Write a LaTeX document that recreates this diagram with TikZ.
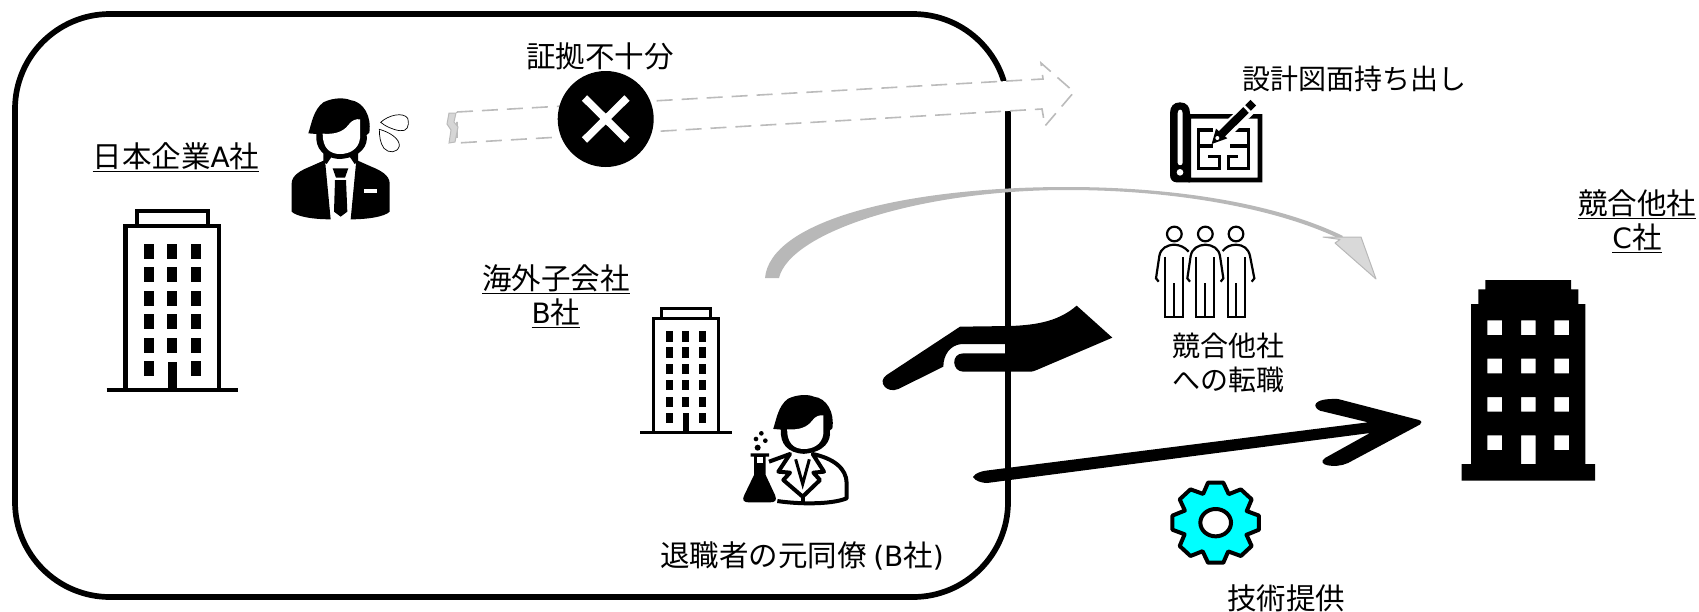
\documentclass[tikz,border=0pt]{standalone}
\usepackage{fontspec}
\setmainfont{Noto Sans CJK JP}
\newfontfamily\latf{DejaVu Sans}
\newcommand{\lat}[1]{{\latf\fontsize{28}{34}\selectfont #1}}
\definecolor{ghost}{HTML}{BBBBBB}
\definecolor{arcgray}{HTML}{B8B8B8}
\definecolor{headgray}{HTML}{D9D9D9}
\definecolor{gearcyan}{HTML}{00FFFF}
\tikzset{
  lbl/.style={inner sep=0pt,align=center,font=\fontsize{29.5}{34}\selectfont},
  lblsmall/.style={inner sep=0pt,align=center,font=\fontsize{28}{34}\selectfont},
}
% head of a person, in a 3x local grid
\newcommand{\headicon}{%
  \fill[black] (145,340) .. controls (155,310) and (160,270) .. (190,247) .. controls (220,232) and (255,233) .. (270,240) .. controls (312,245) and (335,290) .. (328,338) -- (320,345) .. controls (325,375) and (305,412) .. (240,417) .. controls (190,415) and (165,385) .. (169,342) -- cycle;
  \fill[white] (188,341) .. controls (225,344) and (250,335) .. (265,315) .. controls (275,300) and (290,296) .. (300,298) -- (300,355) .. controls (296,390) and (265,402) .. (240,402) .. controls (210,402) and (188,385) .. (188,341) -- cycle;
}
% outlined office block; #1,#2 = base-left, #3 = scale, #4 = line width
\newcommand{\officeicon}[4]{%
  \begin{scope}[shift={(#1,#2)},scale=#3/3]
    \draw[black,line width=#4,line join=miter] (56,0) -- (56,-493) -- (337,-493) -- (337,0);
    \draw[black,line width=#4,line join=miter] (91,-493) -- (91,-536) -- (304,-536) -- (304,-493);
    \draw[black,line width=#4] (0,0) -- (395,0);
    \foreach \xx/\yy in {112/438,181/438,253/438,112/369,181/369,253/369,112/297,181/297,253/297,112/228,181/228,253/228,112/156,181/156,253/156,112/87,253/87}
      \fill[black] (\xx,-\yy) rectangle ++(30,45);
    \fill[black] (184,0) rectangle (211,-85);
  \end{scope}}
\begin{document}
\begin{tikzpicture}[x=1pt,y=-1pt]
\useasboundingbox (0,0) rectangle (1699,611);
% enclosure of the group
\draw[black,line width=5.7pt,rounded corners=95pt] (15,14) rectangle (1008,597);
% offering hand
\begin{scope}[shift={(860,290)},scale=1/3]
\fill[black] (80,255) -- (300,110) -- (450,108) .. controls (540,105) and (600,90) .. (650,47) -- (757,143) -- (530,240) .. controls (520,245) and (515,245) .. (505,245) -- (310,245) .. controls (275,245) and (272,190) .. (310,190) -- (440,190) -- (440,162) -- (305,162) .. controls (270,165) and (250,195) .. (250,230) -- (115,297) .. controls (80,312) and (50,275) .. (80,255) -- cycle;
\end{scope}
% technology arrow
\fill[black] (973,477) .. controls (975,473) and (982,471) .. (987,470.5) -- (1368,422.3) -- (1320,410.7) .. controls (1312,407) and (1312,398) .. (1338,399) -- (1419,420) .. controls (1422,421) and (1422,423) .. (1420,424.5) -- (1348,463) .. controls (1335,469) and (1315,465) .. (1325,458) -- (1370,433) -- (987,483) .. controls (982,483) and (975,481) .. (973,477) -- cycle;
% curved grey arrow
\fill[arcgray] (765,278) .. controls (770,222) and (900,187) .. (1067,187) .. controls (1180,187) and (1280,205) .. (1343,236) -- (1340,239) .. controls (1280,210) and (1180,190) .. (1067,190) .. controls (920,190) and (790,232) .. (779,278) -- cycle;
\draw[arcgray,fill=headgray,line width=1pt,line join=round] (1323,237) -- (1361,237) -- (1376,279) -- (1335,243) -- (1340,239.5) -- cycle;
% ghost arrow
\draw[ghost,fill=white,line width=1.6pt,dash pattern=on 16pt off 9pt] (457,112) -- (1043,79) -- (1041,63) -- (1074,92) -- (1045,126) -- (1042,109) -- (457,143) -- cycle;
\draw[ghost,line width=1pt,fill=ghost!60] (449,113) -- (456,113) -- (454,122) -- (458,127) -- (455,142) -- (449,143) -- (451,130) -- (447,124) -- cycle;
% refusal badge
\node[circle,fill=black,minimum size=96pt,inner sep=0pt] (badge) at (605.7,119) {};
\draw[white,line width=7.5pt] (584.5,98) -- (627,140);
\draw[white,line width=7.5pt] (627,98) -- (584.5,140);
% buildings
\officeicon{106.7}{390}{1}{4.3pt}
\officeicon{640}{432.7}{0.696}{3pt}
\begin{scope}[shift={(1440,270)},scale=1/3]
\fill[black,even odd rule] (65,632) -- (65,582) -- (93,582) -- (93,102) -- (115,102) -- (115,58) -- (136,58) -- (136,30) -- (393,30) -- (393,58) -- (415,58) -- (415,102) -- (436,102) -- (436,582) -- (465,582) -- (465,632) -- cycle
 (142,151) rectangle (186,195) (243,151) rectangle (287,195) (343,151) rectangle (387,195)
 (142,266) rectangle (186,310) (243,266) rectangle (287,310) (343,266) rectangle (387,310)
 (142,381) rectangle (186,425) (243,381) rectangle (287,425) (343,381) rectangle (387,425)
 (142,496) rectangle (186,540) (243,496) rectangle (287,582) (343,496) rectangle (387,540);
\end{scope}
% businessman
\begin{scope}[shift={(260,20)},scale=1/3]
\fill[black] (95,575) -- (95,490) .. controls (95,465) and (125,450) .. (150,440) -- (195,420) -- (212,598) .. controls (160,598) and (110,590) .. (95,575) -- cycle;
\fill[black] (389,575) -- (389,490) .. controls (389,465) and (359,450) .. (334,440) -- (289,420) -- (272,598) .. controls (324,598) and (374,590) .. (389,575) -- cycle;
\fill[black] (190,395) -- (215,410) -- (200,432) -- (190,425) -- cycle;
\fill[black] (294,395) -- (269,410) -- (284,432) -- (294,425) -- cycle;
\headicon
\fill[black] (218,445) -- (265,445) -- (255,473) -- (228,473) -- cycle;
\fill[black] (225,480) -- (258,480) -- (262,575) -- (242,590) -- (222,575) -- cycle;
\fill[white] (312,508) rectangle (352,518);
\draw[black,line width=0.7pt] (362,307) .. controls (385,285) and (430,275) .. (443,295) .. controls (450,320) and (440,335) .. (420,332) .. controls (400,330) and (375,318) .. (362,307) -- cycle;
\draw[black,line width=0.7pt] (358,328) .. controls (385,335) and (420,355) .. (418,378) .. controls (412,400) and (385,400) .. (372,385) .. controls (360,370) and (358,345) .. (358,328) -- cycle;
\end{scope}
% scientist
\begin{scope}[shift={(620,280)},scale=1/3]
\begin{scope}[shift={(319,117)},scale=0.97]
\headicon
\end{scope}
\draw[black,line width=4pt,line join=round] (447,545) -- (510,522) -- (475,575) -- (510,578) -- (490,600) -- (548,650) -- (600,600) -- (580,578) -- (612,575) -- (578,522) .. controls (640,535) and (680,565) .. (680,610) -- (680,655) .. controls (630,675) and (530,672) .. (472,663);
\draw[black,line width=3pt] (527,538) -- (548,612) -- (568,538);
\draw[black,line width=4pt] (548,650) -- (548,668);
\fill[black] (392,520) -- (447,520) -- (447,530) -- (437,530) -- (437,585) -- (465,645) .. controls (472,662) and (465,667) .. (450,667) -- (385,667) .. controls (372,667) and (365,660) .. (373,645) -- (402,585) -- (402,530) -- (392,530) -- cycle;
\fill[white] (410,530) rectangle (429,550);
\fill[black] (424,460) circle[radius=7] (408,477) circle[radius=7] (436,482) circle[radius=7] (413,503) circle[radius=9];
\end{scope}
% blueprint
\begin{scope}[shift={(1130,50)},scale=1/3]
\fill[black] (150,157) .. controls (170,157) and (180,170) .. (180,190) -- (180,397) -- (140,397) .. controls (128,397) and (120,388) .. (120,375) -- (120,190) .. controls (120,170) and (130,157) .. (150,157) -- cycle;
\fill[white] (143,190) .. controls (143,175) and (158,175) .. (158,190) -- (158,338) .. controls (158,348) and (143,348) .. (143,338) -- cycle;
\fill[white] (150,367) circle[radius=10];
\fill[black,even odd rule] (175,192) rectangle (397,397) (183,206) rectangle (383,383);
\draw[black,line width=3.2pt] (250,240) -- (205,240) -- (205,355) -- (268,355) -- (268,320) -- (235,320);
\draw[black,line width=3.2pt] (208,288) -- (250,288);
\draw[black,line width=3.2pt] (300,240) -- (355,240) -- (355,355) -- (295,355) -- (295,320) -- (325,320);
\draw[black,line width=3.2pt] (300,288) -- (350,288);
\draw[white,line width=14pt] (262,268) -- (385,148);
\draw[black,line width=8pt] (275,252) -- (348,180);
\draw[black,line width=8pt] (354,174) -- (370,158);
\fill[black] (245,282) -- (258,236) -- (292,265) -- cycle;
\fill[white] (262,264) circle[radius=6];
\end{scope}
% group of staff
\begin{scope}[shift={(1130,50)},scale=1/3,line width=2.2pt,black]
\foreach \cx in {133,226,318} \draw (\cx,552) circle[radius=22];
\draw (86,695) -- (78,685) -- (88,618) .. controls (92,595) and (110,585) .. (133,584) .. controls (150,585) and (165,592) .. (176,605);
\draw (180,695) -- (172,685) -- (182,618) .. controls (186,595) and (205,585) .. (226,584) .. controls (248,585) and (266,595) .. (270,618) -- (280,685) -- (272,695);
\draw (278,603) .. controls (288,590) and (300,585) .. (318,584) .. controls (340,585) and (355,595) .. (360,618) -- (373,685) -- (365,695);
\draw (106,620) -- (106,800) -- (158,800) -- (158,620) (133,700) -- (133,800);
\draw (198,620) -- (198,800) -- (252,800) -- (252,620) (226,700) -- (226,800);
\draw (293,620) -- (293,800) -- (346,800) -- (346,620) (319,700) -- (319,800);
\end{scope}
% gear
\begin{scope}[shift={(1150,470)},scale=1/3]
\begin{scope}[shift={(197,158)},xscale=1.08,yscale=1]
\draw[black,fill=gearcyan,line width=4pt,line join=round] (100:122) \foreach \aa in {90,45,0,-45,-90,-135,-180,-225}{ -- ({\aa+10}:122) -- ({\aa-10}:122) -- ({\aa-22}:93) } -- cycle;
\end{scope}
\draw[black,fill=white,line width=4pt] (197,158) ellipse [x radius=46,y radius=41];
\end{scope}
% labels
\node[lbl] (lblA) at (176,157) {\underline{日本企業\lat{A}社}};
\node[lbl] (lblEv) at (600,56) {証拠不十分};
\node[lbl] (lblB) at (556,296) {\underline{海外子会社}\\\underline{\lat{B}社}};
\node[lbl] (lblCol) at (802,556) {退職者の元同僚 \lat{(B}社\lat{)}};
\node[lblsmall] (lblPlan) at (1354,79) {設計図面持ち出し};
\node[lbl] (lblC) at (1637,221) {\underline{競合他社}\\\underline{\lat{C}社}};
\node[lblsmall] (lblMove) at (1228,363) {競合他社\\への転職};
\node[lbl] (lblTech) at (1286,598) {技術提供};
\end{tikzpicture}
\end{document}
